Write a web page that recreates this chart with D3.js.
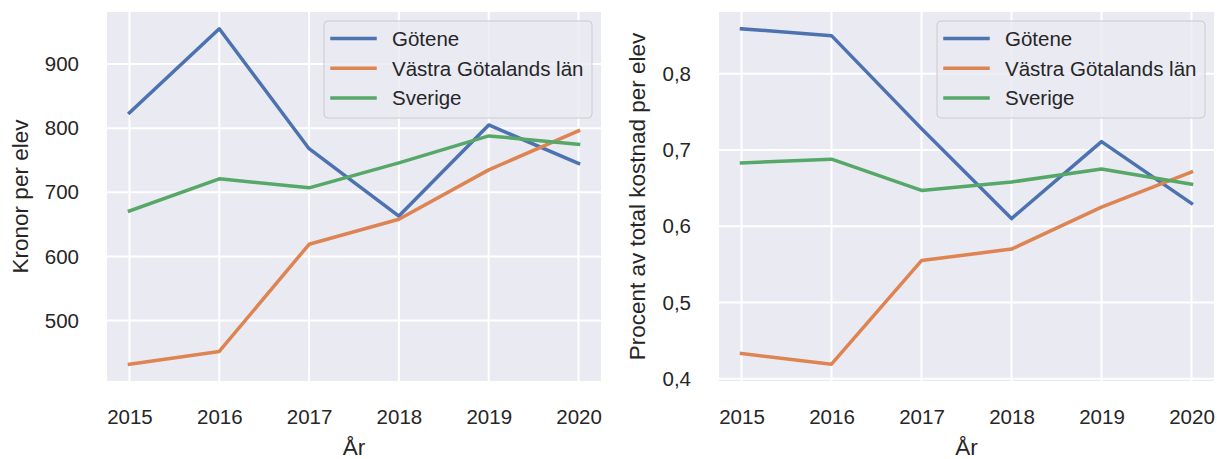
<!DOCTYPE html>
<html>
<head>
<meta charset="utf-8">
<script src="https://cdn.jsdelivr.net/npm/d3@7"></script>
<style>
  html, body { margin: 0; padding: 0; background: #ffffff; }
  svg { display: block; }
  text { font-family: "Liberation Sans", Arial, Helvetica, sans-serif; fill: #262626; }
</style>
</head>
<body>
<svg id="chart" width="1217" height="459"></svg>
<script>
// ---- data ----
const years = [2015, 2016, 2017, 2018, 2019, 2020];
const seriesNames = ["Götene", "Västra Götalands län", "Sverige"];

const kronorGotene  = [824, 955, 768, 663, 805, 745];
const kronorVG      = [432, 452, 619, 658, 735, 796];
const kronorSverige = [671, 721, 707, 746, 788, 775];

const procentGotene  = [0.859, 0.850, 0.728, 0.610, 0.711, 0.630];
const procentVG      = [0.433, 0.419, 0.555, 0.570, 0.625, 0.671];
const procentSverige = [0.683, 0.688, 0.647, 0.658, 0.675, 0.655];

const kronorTicks  = [500, 600, 700, 800, 900];
const procentTicks = [0.4, 0.5, 0.6, 0.7, 0.8];

const xLabel = "År";
const kronorLabel = "Kronor per elev";
const procentLabel = "Procent av total kostnad per elev";

// ---- style ----
const colors = ["#4c72b0", "#dd8452", "#55a868"];
const bg = "#eaeaf2";
const tickFont = 20.5;
const labelFont = 22.5;

const svg = d3.select("#chart");

function panel(opts) {
  const { left, right, top, bottom, series, ticks, tickFmt, ylabel, ylabelX } = opts;
  const g = svg.append("g");

  const span = years[years.length-1] - years[0];
  const x = d3.scaleLinear()
    .domain([years[0] - 0.05 * span, years[years.length-1] + 0.05 * span])
    .range([left, right]);

  const all = series.flat();
  const mn = d3.min(all), mx = d3.max(all), r = mx - mn;
  const y = d3.scaleLinear().domain([mn - 0.05 * r, mx + 0.05 * r]).range([bottom, top]);

  g.append("rect").attr("x", left).attr("y", top)
    .attr("width", right - left).attr("height", bottom - top).attr("fill", bg);

  // grid
  g.append("g").selectAll("line").data(years).join("line")
    .attr("x1", d => x(d)).attr("x2", d => x(d))
    .attr("y1", top).attr("y2", bottom)
    .attr("stroke", "#ffffff").attr("stroke-width", 2);
  g.append("g").selectAll("line").data(ticks).join("line")
    .attr("x1", left).attr("x2", right)
    .attr("y1", d => y(d)).attr("y2", d => y(d))
    .attr("stroke", "#ffffff").attr("stroke-width", 2);

  // axes via d3
  const xAxis = d3.axisBottom(x).tickValues(years).tickFormat(d3.format("d")).tickSize(0).tickPadding(28);
  const gx = g.append("g").attr("transform", `translate(0,${bottom})`).call(xAxis);
  gx.select(".domain").remove();
  gx.selectAll("text").attr("font-size", tickFont).attr("fill", "#262626")
    .style("font-family", '"Liberation Sans", Arial, sans-serif');

  const yAxis = d3.axisLeft(y).tickValues(ticks).tickFormat(tickFmt).tickSize(0).tickPadding(28);
  const gy = g.append("g").attr("transform", `translate(${left},0)`).call(yAxis);
  gy.select(".domain").remove();
  gy.selectAll("text").attr("font-size", tickFont).attr("fill", "#262626")
    .style("font-family", '"Liberation Sans", Arial, sans-serif');

  // lines
  const line = d3.line().x((d, i) => x(years[i])).y(d => y(d));
  series.forEach((s, i) => {
    g.append("path").datum(s).attr("d", line)
      .attr("fill", "none").attr("stroke", colors[i]).attr("stroke-width", 3.5)
      .attr("stroke-linejoin", "round").attr("stroke-linecap", "square");
  });

  // labels
  g.append("text").attr("x", (left + right) / 2).attr("y", 455)
    .attr("text-anchor", "middle").attr("font-size", labelFont).text(xLabel);
  g.append("text")
    .attr("transform", `translate(${ylabelX},${(top + bottom) / 2}) rotate(-90)`)
    .attr("text-anchor", "middle").attr("dominant-baseline", "middle")
    .attr("font-size", labelFont).text(ylabel);

  // legend
  const lw = 268, lh = 97;
  const lx = right - 9 - lw, ly = top + 9;
  const lg = g.append("g");
  lg.append("rect").attr("x", lx).attr("y", ly).attr("width", lw).attr("height", lh)
    .attr("rx", 4).attr("fill", bg).attr("fill-opacity", 0.8)
    .attr("stroke", "#cccccc").attr("stroke-width", 1);
  seriesNames.forEach((name, i) => {
    const yy = ly + 17.5 + i * 29.7;
    lg.append("line").attr("x1", lx + 8).attr("x2", lx + 51)
      .attr("y1", yy).attr("y2", yy)
      .attr("stroke", colors[i]).attr("stroke-width", 3.5).attr("stroke-linecap", "square");
    lg.append("text").attr("x", lx + 68).attr("y", yy)
      .attr("dominant-baseline", "central").attr("font-size", tickFont).text(name);
  });
}

panel({
  left: 107, right: 601, top: 12, bottom: 381,
  series: [kronorGotene, kronorVG, kronorSverige],
  ticks: kronorTicks, tickFmt: d3.format("d"),
  ylabel: kronorLabel, ylabelX: 22
});

panel({
  left: 719, right: 1214, top: 12, bottom: 381,
  series: [procentGotene, procentVG, procentSverige],
  ticks: procentTicks, tickFmt: d => d3.format(".1f")(d).replace(".", ","),
  ylabel: procentLabel, ylabelX: 639
});
</script>
</body>
</html>
